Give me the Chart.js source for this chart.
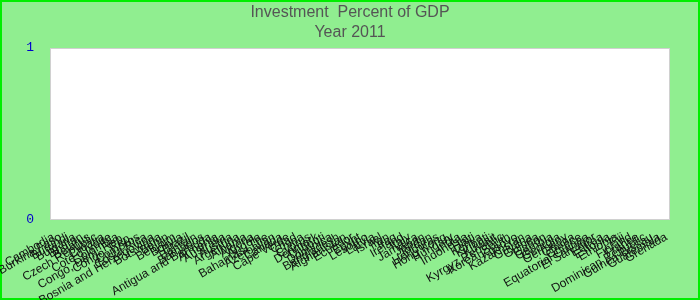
<!DOCTYPE html>
<html>
<head>
<meta charset="utf-8">
<title>Investment Percent of GDP</title>
<script src="https://cdn.jsdelivr.net/npm/chart.js@4/dist/chart.umd.min.js"></script>
<style>
  html, body { margin: 0; padding: 0; background: #90ee90; }
  #wrap { width: 700px; height: 300px; }
</style>
</head>
<body>
<div id="wrap"><canvas id="gdpChart" width="700" height="300"></canvas></div>
<script>
// Countries on the x axis (order as they appear in the reference)
const countries = [
  'Cambodia', 'Burkina Faso', 'Burundi', 'Bulgaria', 'Bhutan', 'Belarus',
  'Czech Republic', 'Croatia', "Cote d'Ivoire", 'Colombia', 'Congo, Dem. Rep.',
  'Congo, Rep.', 'Comoros', 'Costa Rica', 'Bosnia and Herzegovina', 'Botswana',
  'Benin', 'Belgium', 'Bolivia', 'Brazil', 'Bahrain', 'Barbados',
  'Antigua and Barbuda', 'Armenia', 'Australia', 'Austria', 'Argentina',
  'Albania', 'Algeria', 'Angola', 'Bahamas, The', 'Azerbaijan', 'Canada',
  'Cape Verde', 'Chad', 'China', 'Cyprus', 'Denmark', 'Djibouti', 'Dominica',
  'Bangladesh', 'Afghanistan', 'Ecuador', 'Egypt', 'Lesotho', 'Latvia',
  'Israel', 'Iran', 'Iraq', 'Ireland', 'Italy', 'Jamaica', 'Japan', 'Jordan',
  'Honduras', 'Hong Kong', 'Hungary', 'India', 'Indonesia', 'Haiti', 'Kenya',
  'Kiribati', 'Kuwait', 'Kyrgyz Republic', 'Korea, South', 'Kosovo',
  'Kazakhstan', 'Guyana', 'Guinea', 'Gabon', 'Gambia', 'Georgia', 'Germany',
  'Ghana', 'Greece', 'Equatorial Guinea', 'El Salvador', 'Eritrea', 'Estonia',
  'Ethiopia', 'Fiji', 'Finland', 'France', 'Dominican Republic',
  'Guinea-Bissau', 'Guatemala', 'Grenada'
];

// No values are plotted in the reference for 2011
const investmentPct = [];

const titleLines = ['Investment  Percent of GDP', 'Year 2011'];

// Background, white plot area and outer green frame
const framePlugin = {
  id: 'frame',
  beforeDraw(chart) {
    const { ctx, chartArea: a } = chart;
    ctx.save();
    ctx.fillStyle = '#90ee90';
    ctx.fillRect(0, 0, chart.width, chart.height);
    ctx.fillStyle = '#ffffff';
    ctx.fillRect(a.left, a.top, a.right - a.left, a.bottom - a.top);
    ctx.strokeStyle = '#d0d0d0';
    ctx.lineWidth = 1;
    ctx.strokeRect(a.left + 0.5, a.top + 0.5, a.right - a.left - 1, a.bottom - a.top - 1);
    ctx.strokeStyle = '#00ee00';
    ctx.lineWidth = 2;
    ctx.strokeRect(1, 1, chart.width - 2, chart.height - 2);
    ctx.restore();
  }
};

new Chart(document.getElementById('gdpChart'), {
  type: 'bar',
  data: {
    labels: countries,
    datasets: [
      {
        label: 'Investment',
        data: investmentPct,
        backgroundColor: '#4a90e2',
      },
    ],
  },
  options: {
    responsive: false,
    animation: false,
    layout: {
      padding: 0,
    },
    plugins: {
      legend: { display: false },
      tooltip: { enabled: false },
      title: {
        display: true,
        text: titleLines,
        color: '#555555',
        font: { family: 'Arial, "Liberation Sans", sans-serif', size: 16, weight: 'normal', lineHeight: 1.25 },
        padding: { top: 3, bottom: 5 },
      },
    },
    scales: {
      x: {
        grid: { display: false, drawTicks: false },
        border: { display: false },
        ticks: {
          autoSkip: false,
          maxRotation: 30,
          minRotation: 30,
          padding: 10,
          color: '#111111',
          font: { family: 'Arial, "Liberation Sans", sans-serif', size: 12 },
        },
        afterFit(scale) {
          // keep the plot area at 50..670 so the title stays centred on the page
          scale.height = 80;
          scale.paddingLeft = 0;
          scale.paddingRight = 30;
        },
      },
      y: {
        min: 0,
        max: 1,
        grid: { display: false, drawTicks: false },
        border: { display: false },
        ticks: {
          stepSize: 1,
          padding: 16,
          color: '#0000cc',
          font: { family: '"Liberation Mono", "DejaVu Sans Mono", monospace', size: 13 },
        },
        afterFit(scale) {
          scale.width = 50;
        },
      },
    },
  },
  plugins: [framePlugin],
});
</script>
</body>
</html>
